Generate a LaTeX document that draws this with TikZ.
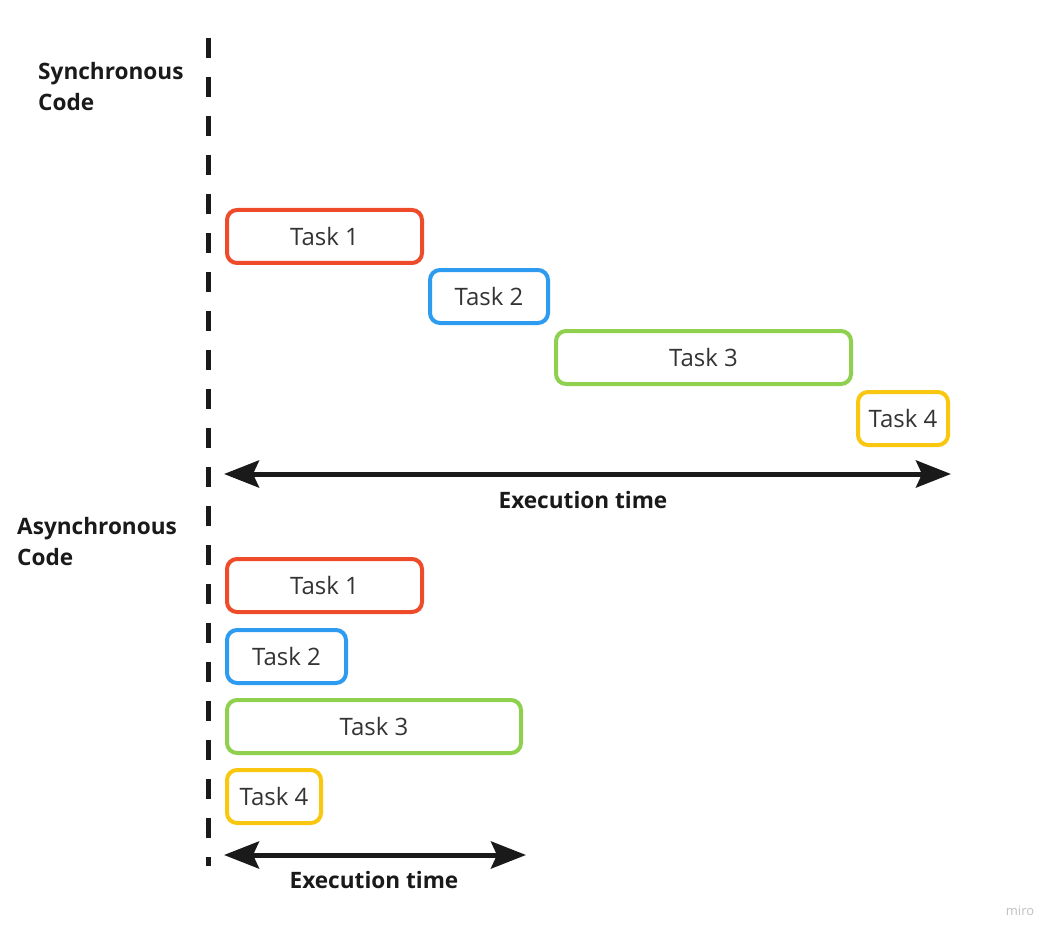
\documentclass[tikz,border=0pt]{standalone}
\usepackage{fontspec}
\setmainfont{Open Sans}
\usetikzlibrary{arrows.meta}
\definecolor{tred}{HTML}{EE4B2B}
\definecolor{tblue}{HTML}{2D9BF0}
\definecolor{tgreen}{HTML}{8FD14F}
\definecolor{tyellow}{HTML}{FAC710}
\definecolor{tink}{HTML}{1A1A1A}
\definecolor{ttext}{HTML}{333333}
\tikzset{
  taskbox/.style={draw=#1, line width=4pt, rounded corners=10pt, minimum height=53pt,
    inner sep=0pt, font=\fontsize{24}{28}\selectfont, text=ttext},
  heading/.style={font=\fontsize{22.6}{31.5}\selectfont\bfseries, text=tink, align=left, anchor=north west, inner sep=0pt},
  timearrow/.style={line width=5pt, draw=tink, {Stealth[length=35pt,width=27pt,inset=6pt]}-{Stealth[length=35pt,width=27pt,inset=6pt]}},
  timelabel/.style={font=\fontsize{22.6}{26}\selectfont\bfseries, text=tink},
  axisline/.style={line width=5pt, draw=tink, dash pattern=on 20pt off 19pt}
}
\begin{document}
\begin{tikzpicture}[x=1pt,y=-1pt]
\useasboundingbox (0,0) rectangle (1062,941);
% vertical dashed line
\coordinate (top) at (208,38);
\coordinate (bot) at (208,866);
\draw[axisline] (top) -- (bot);
% headings
\node[heading] (sync) at (38,62) {Synchronous\\Code};
\node[heading] (async) at (17,517) {Asynchronous\\Code};
% synchronous tasks
\node[taskbox=tred, minimum width=195pt] (s1) at (324.5,236.5) {Task 1};
\node[taskbox=tblue, minimum width=118pt] (s2) at (489,296.5) {Task 2};
\node[taskbox=tgreen, minimum width=295pt] (s3) at (703.5,357.5) {Task 3};
\node[taskbox=tyellow, minimum width=90pt] (s4) at (903,418.5) {Task 4};
% sync arrow
\coordinate (sa) at (224,474);
\coordinate (sb) at (951,474);
\draw[timearrow] (sa) -- (sb);
\node[timelabel] (st) at (583,500) {Execution time};
% asynchronous tasks
\node[taskbox=tred, minimum width=195pt] (a1) at (324.5,585.5) {Task 1};
\node[taskbox=tblue, minimum width=119pt] (a2) at (286.5,656.5) {Task 2};
\node[taskbox=tgreen, minimum width=294pt] (a3) at (374,726.5) {Task 3};
\node[taskbox=tyellow, minimum width=94pt] (a4) at (274,796.5) {Task 4};
% async arrow
\coordinate (aa) at (224,855);
\coordinate (ab) at (526,855);
\draw[timearrow] (aa) -- (ab);
\node[timelabel] (at) at (374,880) {Execution time};
% watermark
\node[font=\fontsize{13}{15}\selectfont, text=black!25] (miro) at (1020,911) {miro};
\end{tikzpicture}
\end{document}
